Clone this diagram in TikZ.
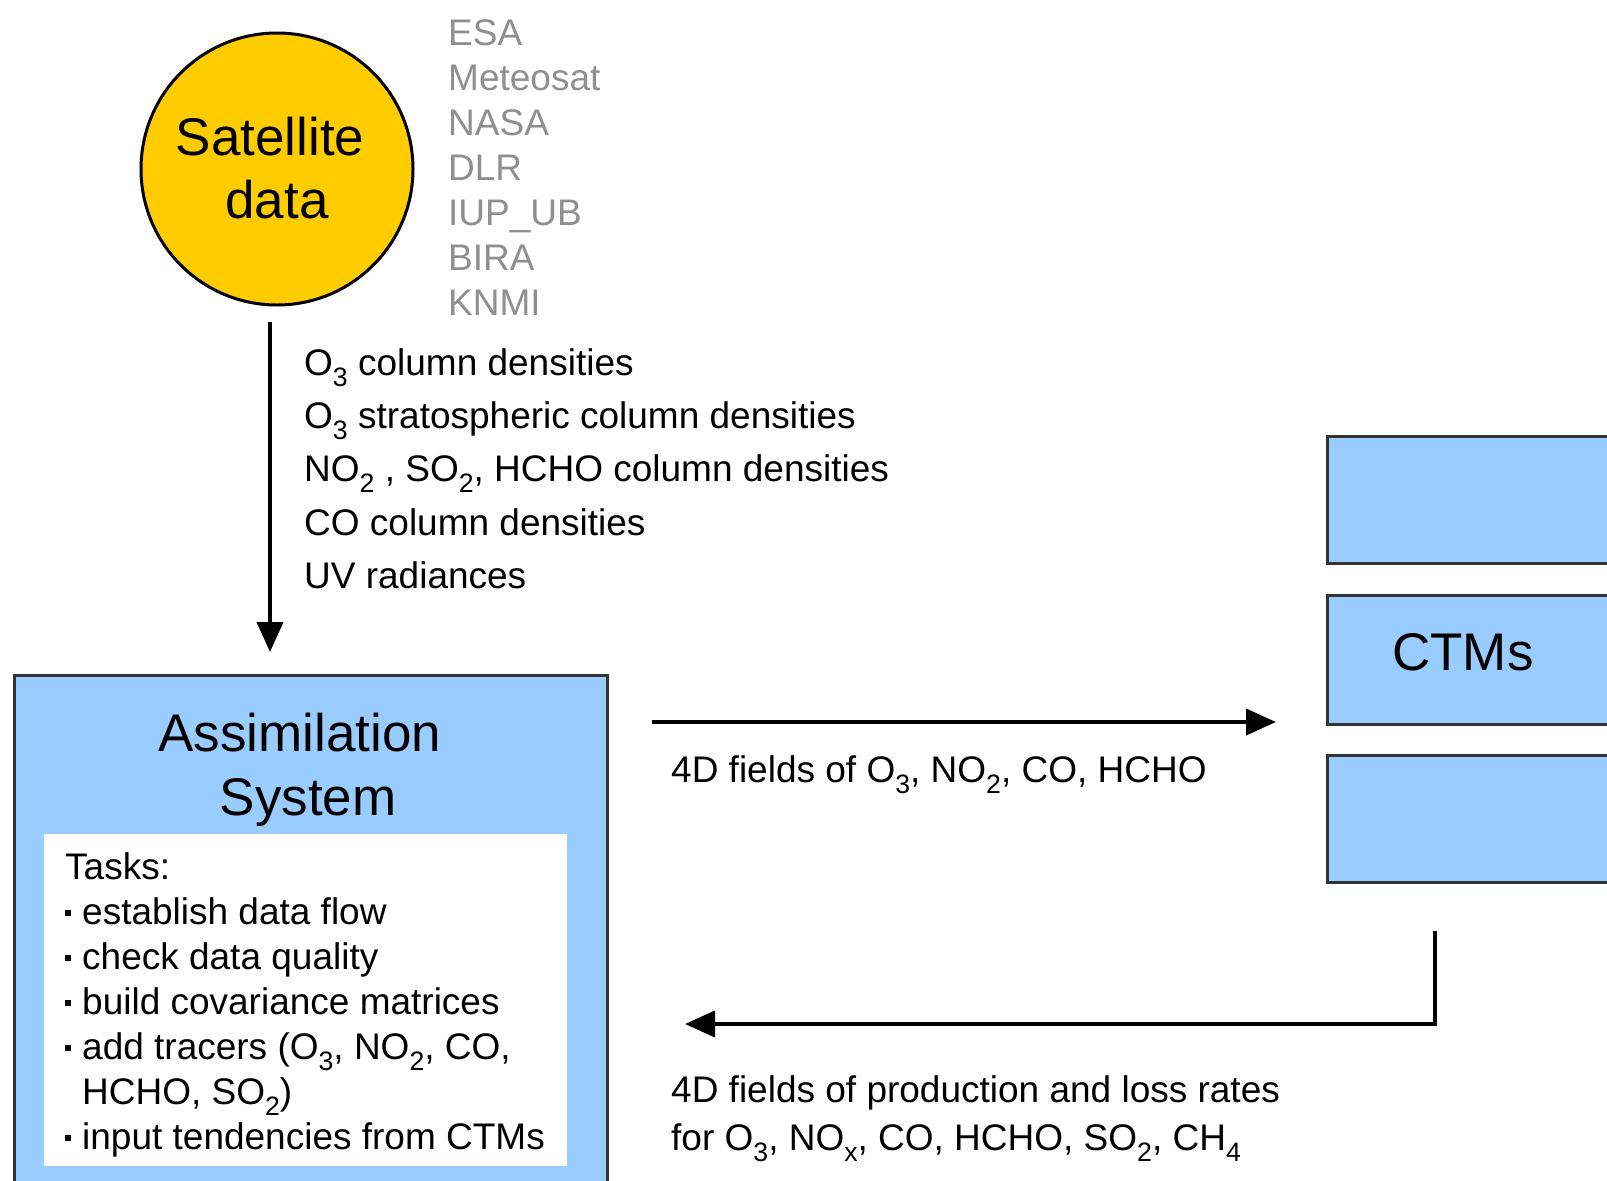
\documentclass[tikz,border=0pt]{standalone}
\usepackage{fontspec}
\setmainfont{Liberation Sans}
\usepackage{graphicx}
\usetikzlibrary{arrows.meta}

\definecolor{satyellow}{HTML}{FFCC00}
\definecolor{skyblue}{HTML}{99CCFF}
\definecolor{edgegray}{HTML}{333333}
\definecolor{srcgray}{HTML}{8F8F8F}

% chemical subscript, set low and small as in the labels
\newcommand{\chem}[1]{\raisebox{-0.32em}{\scalebox{0.72}{#1}}}
% small square bullet of the task list
\newcommand{\tbul}{\rule[8pt]{6pt}{6pt}\hspace{11pt}}

\tikzset{
  lbl/.style={font=\fontsize{37}{45}\selectfont, inner sep=0pt, anchor=base west},
  src/.style={lbl, text=srcgray},
  big/.style={font=\fontsize{53}{63}\selectfont, inner sep=0pt, anchor=base},
  bluebox/.style={draw=edgegray, fill=skyblue, line width=2.5pt, inner sep=0pt, anchor=north west},
  flow/.style={line width=4pt, -{Triangle[length=30pt, width=26pt]}},
}

\begin{document}
\begin{tikzpicture}[x=1pt, y=-1pt]
\clip (0,0) rectangle (1607,1181);
\fill[white] (0,0) rectangle (1607,1181);

% satellite data source
\node[circle, draw=black, fill=satyellow, line width=3pt, minimum size=272pt, inner sep=0pt] (sat) at (277,169) {};
\node[big] (satA) at (270,155) {Satellite};
\node[big] (satB) at (277,218) {data};

% data providers
\node[src] (p1) at (448,45) {ESA};
\node[src] (p2) at (448,90) {Meteosat};
\node[src] (p3) at (448,135) {NASA};
\node[src] (p4) at (448,180) {DLR};
\node[src] (p5) at (448,225) {IUP\_UB};
\node[src] (p6) at (448,270) {BIRA};
\node[src] (p7) at (448,315) {KNMI};

% satellite products
\node[lbl] (d1) at (304,375) {O\chem{3} column densities};
\node[lbl] (d2) at (304,428) {O\chem{3} stratospheric column densities};
\node[lbl] (d3) at (304,481) {NO\chem{2} , SO\chem{2}, HCHO column densities};
\node[lbl] (d4) at (304,535) {CO column densities};
\node[lbl] (d5) at (304,588) {UV radiances};

% assimilation system
\node[bluebox, minimum width=593pt, minimum height=560pt] (assim) at (13,674) {};
\node[big] (asA) at (300,751) {Assimilation};
\node[big] (asB) at (308,815) {System};
\node[fill=white, inner sep=0pt, minimum width=523pt, minimum height=332pt, anchor=north west] (tasks) at (44,834) {};
\node[lbl] (t0) at (65,879) {Tasks:};
\node[lbl] (t1) at (65,924) {\tbul establish data flow};
\node[lbl] (t2) at (65,969) {\tbul check data quality};
\node[lbl] (t3) at (65,1014) {\tbul build covariance matrices};
\node[lbl] (t4) at (65,1059) {\tbul add tracers (O\chem{3}, NO\chem{2}, CO,};
\node[lbl] (t5) at (82,1104) {HCHO, SO\chem{2})};
\node[lbl] (t6) at (65,1149) {\tbul input tendencies from CTMs};

% chemistry transport models
\node[bluebox, minimum width=400pt, minimum height=127pt] (ctm1) at (1326,435) {};
\node[bluebox, minimum width=400pt, minimum height=129pt] (ctm2) at (1326,594) {};
\node[bluebox, minimum width=400pt, minimum height=127pt] (ctm3) at (1326,754) {};
\node[big, anchor=base west] (ctmlbl) at (1392,670) {CTMs};

% flows between the components
\coordinate (satout) at ([xshift=-7pt]sat.south);
\draw[flow, shorten <=15pt, shorten >=22pt] (satout) -- (satout |- assim.north);

\coordinate (fwdA) at (652,722);
\coordinate (fwdB) at (1276,722);
\draw[flow] (fwdA) -- (fwdB);
\node[lbl] (fwdlbl) at (671,782) {4D fields of O\chem{3}, NO\chem{2}, CO, HCHO};

\coordinate (backA) at (1435,931);
\coordinate (backB) at (685,1024);
\draw[flow] (backA) |- (backB);
\node[lbl] (backlblA) at (671,1102) {4D fields of production and loss rates};
\node[lbl] (backlblB) at (671,1150) {for O\chem{3}, NO\chem{x}, CO, HCHO, SO\chem{2}, CH\chem{4}};
\end{tikzpicture}
\end{document}
